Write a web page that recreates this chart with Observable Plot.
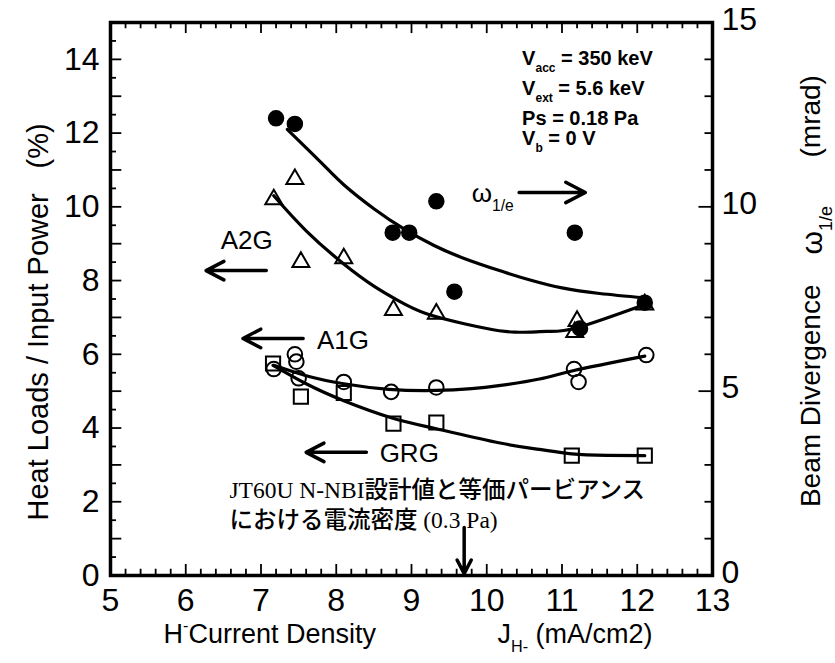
<!DOCTYPE html>
<html><head><meta charset="utf-8">
<script src="https://cdn.jsdelivr.net/npm/d3@7"></script>
<script src="https://cdn.jsdelivr.net/npm/@observablehq/plot@0.6"></script>
<style>body{margin:0;background:#fff}#chart svg{display:block}</style>
</head><body><div id="chart"></div>
<script>
// ---- measured data (beam divergence ω1/e, mrad) ----
const omegaX = [7.2, 7.45, 8.75, 8.97, 9.33, 9.57, 11.17, 11.24, 12.1];
const omegaY = [12.4, 12.25, 9.3, 9.3, 10.15, 7.7, 9.3, 6.7, 7.4];
// ---- heat loads / input power (%) ----
const a2gX = [7.17, 7.45, 7.53, 8.1, 8.76, 9.33, 11.2, 11.17, 12.1];
const a2gY = [10.2, 10.75, 8.5, 8.6, 7.2, 7.1, 6.9, 6.6, 7.35];
const a1gX = [7.17, 7.45, 7.47, 7.5, 8.1, 8.73, 9.33, 11.16, 11.22, 12.12];
const a1gY = [5.6, 6.0, 5.8, 5.35, 5.25, 4.98, 5.1, 5.6, 5.25, 5.98];
const grgX = [7.16, 7.53, 8.1, 8.76, 9.33, 11.13, 12.1];
const grgY = [5.75, 4.85, 4.95, 4.12, 4.15, 3.25, 3.25];
// ---- fitted curves ----
const omegaFitX = [7.35, 7.8, 8.1, 8.5, 8.9, 9.3, 9.7, 10.2, 10.6, 11.0, 11.5, 12.1];
const omegaFitY = [12.1, 11.2, 10.6, 9.95, 9.4, 8.95, 8.6, 8.25, 8.0, 7.8, 7.65, 7.53];
const a2gFitX = [7.17, 7.6, 8.1, 8.5, 8.83, 9.2, 9.7, 10.0, 10.37, 10.8, 11.2, 12.1];
const a2gFitY = [10.3, 9.35, 8.45, 7.85, 7.45, 7.1, 6.83, 6.7, 6.6, 6.62, 6.72, 7.35];
const a1gFitX = [7.17, 7.6, 8.1, 8.7, 9.33, 9.8, 10.16, 10.7, 11.16, 12.1];
const a1gFitY = [5.7, 5.42, 5.2, 5.05, 5.02, 5.07, 5.15, 5.33, 5.56, 5.95];
const grgFitX = [7.16, 7.6, 8.1, 8.73, 9.33, 10.16, 10.7, 11.13, 11.6, 12.1];
const grgFitY = [5.7, 5.2, 4.74, 4.28, 3.98, 3.6, 3.42, 3.3, 3.26, 3.25];
// ---- tick labels ----
const xTickLabels = [5, 6, 7, 8, 9, 10, 11, 12, 13];
const yLeftLabels = [0, 2, 4, 6, 8, 10, 12, 14];
const yRightLabels = [0, 5, 10, 15];
// ---- annotations ----
const seriesLabels = ["A2G", "A1G", "GRG"];
const seriesLabelX = [6.81, 8.09, 8.97];
const seriesLabelY = [9.09, 6.37, 3.31];
const arrowX1 = [7.07, 7.56, 8.4, 10.43, 9.7];
const arrowY1 = [8.27, 6.43, 3.34, 10.39, 1.3];
const arrowX2 = [6.27, 6.76, 7.6, 11.31, 9.7];
const arrowY2 = [8.27, 6.43, 3.34, 10.39, 0.05];
const condText = ["V_{acc} = 350 keV", "V_{ext} = 5.6 keV", "Ps = 0.18 Pa", "V_{b} = 0 V"];
const condY = [14.02, 13.21, 12.39, 11.85];
const condX = 10.47;
const noteText = ["JT60U N-NBI設計値と等価パービアンス", "における電流密度 (0.3 Pa)"];
const noteY = [2.3, 1.49];
const noteX = 6.58;

const pts = (xs, ys) => xs.map((x, i) => ({x, y: ys[i]}));
const omega = pts(omegaX, omegaY), a2g = pts(a2gX, a2gY), a1g = pts(a1gX, a1gY), grg = pts(grgX, grgY);
const omegaFit = pts(omegaFitX, omegaFitY), a2gFit = pts(a2gFitX, a2gFitY),
      a1gFit = pts(a1gFitX, a1gFitY), grgFit = pts(grgFitX, grgFitY);
const arrows = arrowX1.map((x1, i) => ({x1, y1: arrowY1[i], x2: arrowX2[i], y2: arrowY2[i]}));
const labels = seriesLabels.map((t, i) => ({t, x: seriesLabelX[i], y: seriesLabelY[i]}));
const conds = condText.map((t, i) => ({t, y: condY[i]}));
const notes = noteText.map((t, i) => ({t, y: noteY[i]}));

const near = (v, s) => Math.abs(v / s - Math.round(v / s)) < 1e-6;
const xMinor = d3.range(5, 13.0001, 0.2);
const yLeftMinor = d3.range(0, 15.0001, 0.5);
const yRightMinor = d3.range(0, 15.0001, 1);

const chart = Plot.plot({
  width: 835, height: 663,
  marginLeft: 110, marginRight: 123, marginTop: 22, marginBottom: 88,
  x: {domain: [5, 13], axis: null},
  y: {domain: [0, 15], axis: null},
  style: {fontFamily: "'Liberation Sans', Arial, sans-serif", background: "white", color: "black", overflow: "visible"},
  marks: [
    // inward ticks
    Plot.ruleX(xMinor, {x: d => d, y1: 0, y2: d => near(d, 1) ? 0.3 : 0.17, strokeWidth: 1.8}),
    Plot.ruleX(xMinor, {x: d => d, y1: 15, y2: d => near(d, 1) ? 14.7 : 14.83, strokeWidth: 1.8}),
    Plot.ruleY(yLeftMinor, {y: d => d, x1: 5, x2: d => near(d, 1) ? 5.15 : 5.08, strokeWidth: 1.8}),
    Plot.ruleY(yRightMinor, {y: d => d, x1: 13, x2: d => near(d, 5) ? 12.82 : 12.9, strokeWidth: 1.8}),
    Plot.frame({stroke: "black", strokeWidth: 3.5}),
    // tick labels
    Plot.text(xTickLabels, {x: d => d, y: 0, dy: 25, text: d => String(d), fontSize: 32}),
    Plot.text(yLeftLabels, {x: 5, y: d => d, dx: -11, textAnchor: "end", text: d => String(d), fontSize: 32}),
    Plot.text(yRightLabels, {x: 13, y: d => d, dx: 9, dy: -3, textAnchor: "start", text: d => String(d), fontSize: 32}),
    // axis titles
    Plot.text(["Heat Loads / Input Power"], {frameAnchor: "bottom-left", dx: -63, dy: -55, rotate: -90, textAnchor: "start", fontSize: 29}),
    Plot.text(["(%)"], {frameAnchor: "bottom-left", dx: -63, dy: -407, rotate: -90, textAnchor: "start", fontSize: 29}),
    Plot.text(["H^{-}Current Density"], {frameAnchor: "bottom-left", dx: 53, dy: 67, textAnchor: "start", fontSize: 27}),
    Plot.text(["J_{H-} (mA/cm2)"], {frameAnchor: "bottom-left", dx: 387, dy: 67, textAnchor: "start", fontSize: 27}),
    Plot.text(["Beam Divergence"], {frameAnchor: "top-right", dx: 88, dy: 262, rotate: -90, textAnchor: "end", fontSize: 28}),
    Plot.text(["ω_{1/e}"], {frameAnchor: "top-right", dx: 88, dy: 232, rotate: -90, textAnchor: "start", fontSize: 30}),
    Plot.text(["(mrad)"], {frameAnchor: "top-right", dx: 88, dy: 135, rotate: -90, textAnchor: "start", fontSize: 28}),
    // fitted curves
    Plot.line(omegaFit, {x: "x", y: "y", curve: "natural", strokeWidth: 3.2}),
    Plot.line(a2gFit, {x: "x", y: "y", curve: "natural", strokeWidth: 3.2}),
    Plot.line(a1gFit, {x: "x", y: "y", curve: "natural", strokeWidth: 3.2}),
    Plot.line(grgFit, {x: "x", y: "y", curve: "natural", strokeWidth: 3.2}),
    // measured points
    Plot.dot(omega, {x: "x", y: "y", r: 7.5, fill: "black", stroke: "black"}),
    Plot.dot(a2g, {x: "x", y: "y", symbol: "triangle", r: 6.3, fill: "none", stroke: "black", strokeWidth: 2}),
    Plot.dot(a1g, {x: "x", y: "y", symbol: "circle", r: 7.3, fill: "none", stroke: "black", strokeWidth: 2}),
    Plot.dot(grg, {x: "x", y: "y", symbol: "square", r: 8, fill: "none", stroke: "black", strokeWidth: 2}),
    // arrows & labels
    Plot.arrow(arrows, {x1: "x1", y1: "y1", x2: "x2", y2: "y2", strokeWidth: 3.5, headLength: 17, headAngle: 55}),
    Plot.text(labels, {x: "x", y: "y", text: "t", fontSize: 26}),
    Plot.text(["ω_{1/e}"], {x: 9.8, y: 10.36, textAnchor: "start", fontSize: 26}),
    Plot.text(conds, {x: condX, y: "y", text: "t", textAnchor: "start", fontSize: 20, fontWeight: "bold"}),
    Plot.text(notes, {x: noteX, y: "y", text: "t", textAnchor: "start", fontSize: 23.5,
      fontFamily: "'Liberation Serif', 'Noto Sans CJK JP', serif", fontWeight: 500})
  ]
});
document.getElementById("chart").appendChild(chart);

// render _{sub} / ^{sup} markup as tspans
function rich(svg) {
  svg.querySelectorAll("text").forEach(t => {
    const s = t.textContent;
    if (!/[_^]\{/.test(s)) return;
    const fs = parseFloat(getComputedStyle(t).fontSize);
    while (t.firstChild) t.removeChild(t.firstChild);
    let cur = 0;
    s.split(/([_^]\{[^}]*\})/).forEach(p => {
      if (!p) return;
      const m = p.match(/^([_^])\{([^}]*)\}$/);
      const ts = document.createElementNS("http://www.w3.org/2000/svg", "tspan");
      let target = 0;
      if (m) {
        target = m[1] === "_" ? 0.34 * fs : -0.42 * fs;
        ts.setAttribute("font-size", (0.6 * fs) + "px");
        ts.textContent = m[2];
      } else ts.textContent = p;
      ts.setAttribute("dy", target - cur);
      cur = target;
      t.appendChild(ts);
    });
  });
}
rich(chart);
</script></body></html>
